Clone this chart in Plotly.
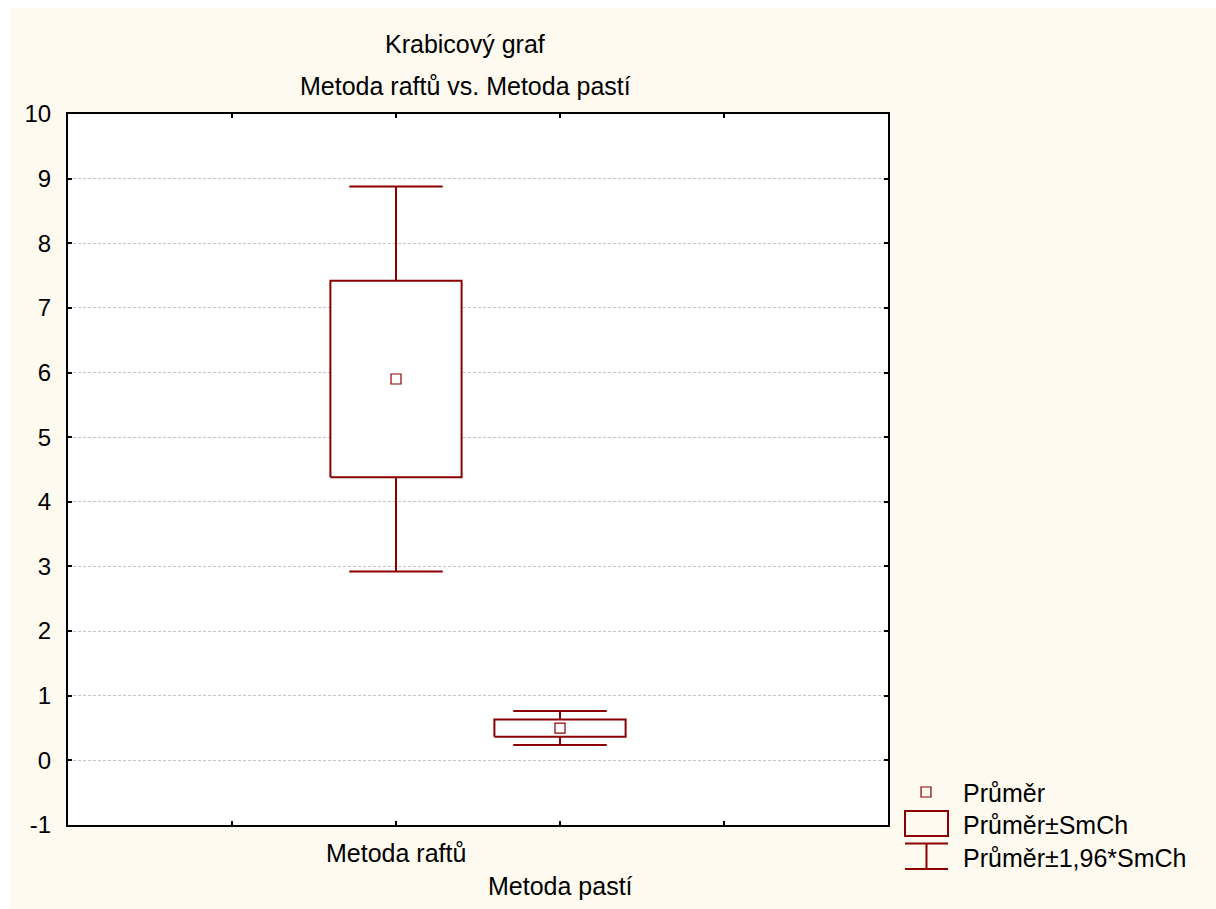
import plotly.graph_objects as go

# Data: mean and standard error for each method
categories = ["Metoda raftů", "Metoda pastí"]
means = [5.9, 0.5]
std_errors = [1.52, 0.134]
z_factor = 1.96

y_tick_values = list(range(-1, 11))
y_tick_labels = [str(v) for v in y_tick_values]

DARK_RED = "#8B0000"
CREAM = "#FEFAF0"
FONT = "Liberation Sans, Arial, sans-serif"

W, H = 1216, 909
M_L, M_R, M_T, M_B = 68, 328, 114, 84
PLOT_W = W - M_L - M_R
PLOT_H = H - M_T - M_B


def px_x(px):
    return (px - M_L) / PLOT_W


def px_y(py):
    return (H - M_B - py) / PLOT_H


BOX_HALF = 0.4
CAP_HALF = 0.285

fig = go.Figure()

for i, (name, m, se) in enumerate(zip(categories, means, std_errors)):
    lo_box, hi_box = m - se, m + se
    lo_w, hi_w = m - z_factor * se, m + z_factor * se
    # whiskers with caps
    fig.add_trace(go.Scatter(
        x=[i - CAP_HALF, i + CAP_HALF, None, i, i, None,
           i, i, None, i - CAP_HALF, i + CAP_HALF],
        y=[hi_w, hi_w, None, hi_w, hi_box, None,
           lo_box, lo_w, None, lo_w, lo_w],
        mode="lines", line=dict(color=DARK_RED, width=2),
        showlegend=False, hoverinfo="skip"))
    # mean ± SE box
    fig.add_trace(go.Scatter(
        x=[i - BOX_HALF, i + BOX_HALF, i + BOX_HALF, i - BOX_HALF, i - BOX_HALF],
        y=[lo_box, lo_box, hi_box, hi_box, lo_box],
        mode="lines", fill="toself", fillcolor="white",
        line=dict(color=DARK_RED, width=2),
        showlegend=False, hoverinfo="skip"))
    # mean marker
    fig.add_trace(go.Scatter(
        x=[i], y=[m], mode="markers",
        marker=dict(symbol="square-open", size=10, color=DARK_RED,
                    line=dict(width=1.2, color=DARK_RED)),
        showlegend=False, hoverinfo="skip"))

axis_common = dict(showline=True, linewidth=2, linecolor="black", mirror="ticks",
                   ticks="inside", ticklen=4, tickwidth=2, tickcolor="black",
                   zeroline=False)

fig.update_xaxes(range=[-2, 3], tickvals=[-2, -1, 0, 1, 2, 3],
                 ticktext=[""] * 6, showgrid=False, **axis_common)
fig.update_yaxes(range=[-1, 10], tickvals=y_tick_values, ticktext=y_tick_labels,
                 showgrid=True, gridcolor="#c4c4c4", gridwidth=1, griddash="3px,2px",
                 ticklabelstandoff=10,
                 tickfont=dict(family=FONT, size=24, color="black"), **axis_common)

TEXT_SIZE = 25
annotations = []
# chart titles
for text, py in [("Krabicový graf", 44), ("Metoda raftů vs. Metoda pastí", 86)]:
    annotations.append(dict(text=text, xref="paper", yref="paper", x=px_x(465), y=px_y(py),
                            xanchor="center", yanchor="middle", showarrow=False,
                            font=dict(family=FONT, size=TEXT_SIZE, color="black")))
# staggered category labels
for i, (name, py) in enumerate(zip(categories, [853, 886])):
    annotations.append(dict(text=name, xref="x", yref="paper", x=i, y=px_y(py),
                            xanchor="center", yanchor="middle", showarrow=False,
                            font=dict(family=FONT, size=TEXT_SIZE, color="black")))
# legend text
for text, py in [("Průměr", 793), ("Průměr±SmCh", 825), ("Průměr±1,96*SmCh", 858)]:
    annotations.append(dict(text=text, xref="paper", yref="paper", x=px_x(961), y=px_y(py),
                            xanchor="left", yanchor="middle", showarrow=False,
                            font=dict(family=FONT, size=TEXT_SIZE, color="black")))

shapes = [
    # thin white margin at the top and left of the page
    dict(type="rect", xref="paper", yref="paper", layer="below",
         x0=px_x(-2), x1=px_x(W + 2), y0=px_y(8), y1=px_y(-2),
         fillcolor="white", line=dict(width=0)),
    dict(type="rect", xref="paper", yref="paper", layer="below",
         x0=px_x(-2), x1=px_x(10), y0=px_y(H + 2), y1=px_y(-2),
         fillcolor="white", line=dict(width=0)),
    # legend symbols
    dict(type="rect", xref="paper", yref="paper",
         x0=px_x(921), x1=px_x(931), y0=px_y(797), y1=px_y(787),
         line=dict(color=DARK_RED, width=1.2)),
    dict(type="rect", xref="paper", yref="paper",
         x0=px_x(905), x1=px_x(948), y0=px_y(836), y1=px_y(811),
         line=dict(color=DARK_RED, width=2)),
    dict(type="line", xref="paper", yref="paper",
         x0=px_x(905), x1=px_x(948), y0=px_y(843.5), y1=px_y(843.5),
         line=dict(color=DARK_RED, width=2)),
    dict(type="line", xref="paper", yref="paper",
         x0=px_x(905), x1=px_x(948), y0=px_y(869), y1=px_y(869),
         line=dict(color=DARK_RED, width=2)),
    dict(type="line", xref="paper", yref="paper",
         x0=px_x(926.5), x1=px_x(926.5), y0=px_y(843.5), y1=px_y(869),
         line=dict(color=DARK_RED, width=2)),
]

fig.update_layout(
    width=W, height=H,
    margin=dict(l=M_L, r=M_R, t=M_T, b=M_B, autoexpand=False),
    paper_bgcolor=CREAM, plot_bgcolor="white",
    showlegend=False,
    annotations=annotations, shapes=shapes,
    font=dict(family=FONT, color="black"),
)

fig.write_html("out.html")
